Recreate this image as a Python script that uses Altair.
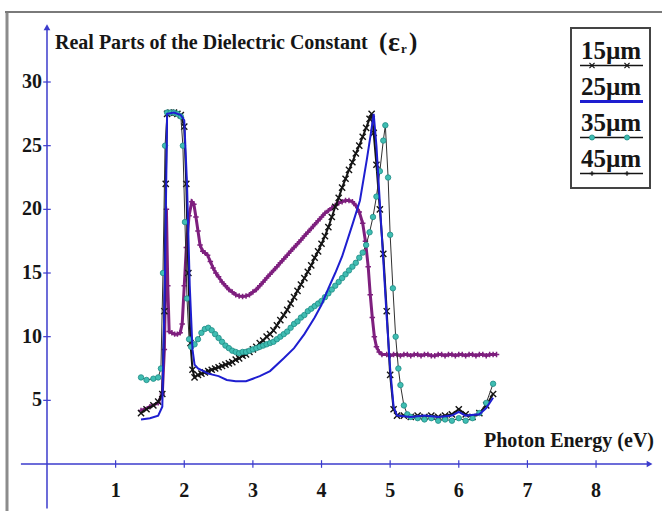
import altair as alt
import pandas as pd

# Real part of the dielectric constant vs photon energy, one pair of lists per film thickness
e15 = [1.37, 1.45, 1.55, 1.62, 1.68, 1.71, 1.73, 1.75, 1.80, 1.85, 1.90, 1.95, 2.00, 2.03, 2.06, 2.09, 2.12, 2.15,
       2.20, 2.25, 2.30, 2.35, 2.40, 2.45, 2.50, 2.55, 2.60, 2.65, 2.70, 2.75, 2.80, 2.85, 2.90, 2.95,
       3.00, 3.05, 3.10, 3.15, 3.20, 3.25, 3.30, 3.35, 3.40, 3.45, 3.50, 3.55, 3.60, 3.65, 3.70, 3.75, 3.80, 3.85, 3.90, 3.95,
       4.00, 4.05, 4.10, 4.15, 4.20, 4.25, 4.30, 4.35, 4.40, 4.45, 4.50, 4.55, 4.60, 4.65, 4.70, 4.73,
       4.76, 4.80, 4.85, 4.90, 4.95, 5.00, 5.05, 5.10, 5.20, 5.30, 5.40, 5.50, 5.60, 5.70, 5.80, 5.90, 6.00, 6.10,
       6.20, 6.30, 6.40, 6.50]
r15 = [4.0, 4.3, 4.6, 4.9, 5.5, 12.0, 22.0, 27.5, 27.6, 27.6, 27.5, 27.4, 26.5, 22.0, 15.0, 9.5, 7.4, 6.8,
       7.0, 7.1, 7.2, 7.3, 7.4, 7.5, 7.6, 7.7, 7.8, 7.9, 8.0, 8.2, 8.3, 8.5, 8.6, 8.8,
       9.0, 9.2, 9.5, 9.7, 10.0, 10.2, 10.5, 10.9, 11.3, 11.7, 12.1, 12.6, 13.1, 13.6, 14.1, 14.6, 15.1, 15.6, 16.2, 16.7,
       17.3, 17.9, 18.6, 19.4, 20.2, 20.9, 21.7, 22.4, 23.1, 23.7, 24.4, 25.0, 25.7, 26.4, 27.1, 27.5,
       26.0, 23.5, 20.0, 16.5, 12.0, 7.0, 4.3, 3.8, 3.8, 3.7, 3.8, 3.7, 3.8, 3.7, 3.8, 3.9, 4.3, 3.9,
       3.7, 4.0, 4.6, 5.5]

e25 = [1.37, 1.50, 1.62, 1.68, 1.72, 1.75, 1.85, 1.95, 2.00, 2.04, 2.08, 2.12, 2.15, 2.20, 2.35, 2.50, 2.62,
       2.75, 2.90, 3.00, 3.10, 3.25, 3.45, 3.60, 3.75, 3.90, 4.00, 4.10, 4.20, 4.30, 4.45, 4.56, 4.66, 4.72,
       4.76, 4.80, 4.85, 4.90, 4.95, 5.00, 5.05, 5.10, 5.30, 5.50, 5.70, 5.90, 6.00, 6.10, 6.30, 6.40, 6.50]
r25 = [3.5, 3.6, 3.8, 4.5, 15.0, 27.5, 27.6, 27.4, 27.0, 22.0, 14.0, 9.0, 7.8, 7.5, 7.1, 6.9, 6.6,
       6.5, 6.5, 6.7, 6.9, 7.3, 8.3, 9.1, 10.2, 11.5, 12.5, 13.8, 15.0, 16.3, 18.8, 20.7, 23.9, 26.0,
       27.5, 25.0, 20.5, 16.0, 11.5, 7.5, 4.5, 3.8, 3.7, 3.8, 3.7, 3.8, 4.1, 3.8, 3.9, 4.4, 5.2]

e35 = [1.37, 1.45, 1.55, 1.62, 1.66, 1.69, 1.72, 1.75, 1.80, 1.85, 1.90, 1.95, 1.98, 2.01, 2.04, 2.07, 2.10,
       2.15, 2.20, 2.25, 2.30, 2.35, 2.40, 2.45, 2.50, 2.55, 2.60, 2.65, 2.70, 2.75, 2.80, 2.85, 2.90, 2.95,
       3.00, 3.05, 3.10, 3.15, 3.20, 3.25, 3.30, 3.35, 3.40, 3.45, 3.50, 3.55, 3.60, 3.65, 3.70, 3.75,
       3.80, 3.85, 3.90, 3.95, 4.00, 4.05, 4.10, 4.15, 4.20, 4.25, 4.30, 4.35, 4.40, 4.45, 4.50, 4.55,
       4.60, 4.65, 4.70, 4.75, 4.80, 4.85, 4.90, 4.93, 4.97, 5.00, 5.04, 5.08, 5.12, 5.15, 5.20, 5.25,
       5.30, 5.40, 5.50, 5.60, 5.70, 5.80, 5.90, 6.00, 6.10, 6.20, 6.30, 6.40, 6.50]
r35 = [6.8, 6.6, 6.7, 6.8, 7.5, 15.0, 25.0, 27.6, 27.6, 27.6, 27.5, 27.3, 25.0, 19.0, 13.0, 9.8, 9.2,
       9.4, 9.8, 10.3, 10.6, 10.7, 10.5, 10.2, 9.9, 9.6, 9.3, 9.1, 8.9, 8.8, 8.7, 8.8, 8.8, 8.9,
       9.0, 9.1, 9.2, 9.3, 9.4, 9.5, 9.6, 9.8, 10.0, 10.2, 10.4, 10.7, 11.0, 11.2, 11.5, 11.7,
       12.0, 12.2, 12.4, 12.6, 12.8, 13.1, 13.4, 13.7, 14.0, 14.3, 14.6, 14.9, 15.2, 15.5, 15.8, 16.2,
       16.6, 17.2, 18.2, 19.4, 21.0, 23.0, 25.4, 26.6, 22.5, 18.0, 13.8, 10.0, 7.5, 6.2, 4.6, 3.9,
       3.7, 3.6, 3.5, 3.6, 3.4, 3.5, 3.4, 3.6, 3.4, 3.6, 4.0, 4.8, 6.3]

e45 = [1.37, 1.50, 1.62, 1.68, 1.71, 1.73, 1.74, 1.76, 1.78, 1.82, 1.86, 1.90, 1.94, 1.97, 2.00, 2.03,
       2.07, 2.11, 2.14, 2.17, 2.20, 2.23, 2.27, 2.30, 2.34, 2.38, 2.42, 2.46, 2.50, 2.55, 2.60, 2.65,
       2.70, 2.75, 2.80, 2.85, 2.90, 2.95, 3.00, 3.05, 3.10, 3.15, 3.20, 3.25, 3.30, 3.35, 3.40, 3.45,
       3.50, 3.55, 3.60, 3.65, 3.70, 3.75, 3.80, 3.85, 3.90, 3.95, 4.00, 4.05, 4.10, 4.15, 4.20, 4.25,
       4.30, 4.35, 4.40, 4.45, 4.50, 4.55, 4.60, 4.64, 4.68, 4.71, 4.74, 4.77, 4.80, 4.84, 4.88,
       4.95, 5.00, 5.05, 5.10, 5.15, 5.20, 5.25, 5.30, 5.35, 5.40, 5.45, 5.50, 5.55, 5.60, 5.65, 5.70,
       5.75, 5.80, 5.85, 5.90, 5.95, 6.00, 6.05, 6.10, 6.15, 6.20, 6.25, 6.30, 6.35, 6.40, 6.45, 6.50, 6.55]
r45 = [4.2, 4.5, 4.8, 5.5, 9.0, 15.0, 20.0, 14.0, 10.4, 10.3, 10.2, 10.2, 10.3, 11.0, 14.0, 17.0,
       19.5, 20.6, 20.4, 19.4, 18.3, 17.2, 16.7, 16.6, 16.4, 15.9, 15.4, 15.0, 14.7, 14.3, 14.0, 13.7,
       13.5, 13.3, 13.2, 13.15, 13.2, 13.3, 13.5, 13.7, 14.0, 14.3, 14.6, 14.9, 15.2, 15.5, 15.8, 16.1,
       16.4, 16.7, 17.0, 17.3, 17.6, 17.9, 18.2, 18.5, 18.8, 19.1, 19.4, 19.7, 19.9, 20.1, 20.3, 20.5,
       20.6, 20.7, 20.7, 20.6, 20.3, 19.8, 18.9, 17.5, 15.5, 13.3, 11.5, 10.0, 9.2, 8.8, 8.6,
       8.6, 8.5, 8.6, 8.6, 8.5, 8.6, 8.6, 8.5, 8.6, 8.6, 8.5, 8.6, 8.6, 8.5, 8.5, 8.6,
       8.6, 8.5, 8.6, 8.6, 8.5, 8.6, 8.6, 8.5, 8.6, 8.6, 8.5, 8.6, 8.6, 8.5, 8.6, 8.6, 8.6]

films = ["15µm", "25µm", "35µm", "45µm"]
x_ticks = [1, 2, 3, 4, 5, 6, 7, 8]
y_ticks = [5, 10, 15, 20, 25, 30]

FONT = "Liberation Serif"
INK = "#161616"
AXIS = "#3b3bcc"
BLACK = "#141414"
BLUE = "#1e1ed0"
TEAL = "#3fbdb2"
TEAL_EDGE = "#1f8c85"
PURPLE = "#7e1f7e"
X_SHAPE = "M-1,-1L1,1M-1,1L1,-1"
PLUS_SHAPE = "M-1,0L1,0M0,-1L0,1"

W, H = 662, 511
xs = alt.Scale(domain=[-0.6848, 8.961], nice=False, zero=False)
ys = alt.Scale(domain=[-3.691, 36.441], nice=False, zero=False)
one = alt.Data(values=[{}])


def frame(e, r):
    return pd.DataFrame({"energy": e, "eps": r})


def xy(chart):
    return chart.encode(
        x=alt.X("energy:Q", scale=xs, axis=None),
        y=alt.Y("eps:Q", scale=ys, axis=None),
    )


d15, d25, d35, d45 = frame(e15, r15), frame(e25, r25), frame(e35, r35), frame(e45, r45)

curves = [
    xy(alt.Chart(d45).mark_line(color=PURPLE, strokeWidth=3)),
    xy(alt.Chart(d45).mark_point(shape=PLUS_SHAPE, size=30, stroke=PURPLE, strokeWidth=1.5, filled=False, opacity=1)),
    xy(alt.Chart(d15).mark_line(color=BLACK, strokeWidth=2)),
    xy(alt.Chart(d15).mark_point(shape=X_SHAPE, size=38, stroke=BLACK, strokeWidth=1.4, filled=False, opacity=1)),
    xy(alt.Chart(d35).mark_line(color="#303030", strokeWidth=1)),
    xy(alt.Chart(d35).mark_point(shape="circle", size=30, fill=TEAL, stroke=TEAL_EDGE, strokeWidth=0.8,
                                 filled=True, opacity=1)),
    xy(alt.Chart(d25).mark_line(color=BLUE, strokeWidth=2)),
]

# axes crossing at the origin, with arrow heads
axes = [
    alt.Chart(one).mark_rule(color=AXIS, strokeWidth=1.5).encode(
        x=alt.XDatum(-0.38, scale=xs, axis=None), x2=alt.X2Datum(8.78), y=alt.YDatum(0, scale=ys, axis=None)),
    alt.Chart(one).mark_rule(color=AXIS, strokeWidth=1.5).encode(
        y=alt.YDatum(-3.5, scale=ys, axis=None), y2=alt.Y2Datum(34.3), x=alt.XDatum(0, scale=xs, axis=None)),
    alt.Chart(one).mark_point(shape="triangle-right", size=45, filled=True, color=AXIS, opacity=1).encode(
        x=alt.XDatum(8.78, scale=xs, axis=None), y=alt.YDatum(0, scale=ys, axis=None)),
    alt.Chart(one).mark_point(shape="triangle-up", size=45, filled=True, color=AXIS, opacity=1).encode(
        x=alt.XDatum(0, scale=xs, axis=None), y=alt.YDatum(34.3, scale=ys, axis=None)),
]

xt = pd.DataFrame({"v": x_ticks})
yt = pd.DataFrame({"v": y_ticks})
ticks = [
    alt.Chart(xt).mark_rule(color=AXIS, strokeWidth=1.2).encode(
        x=alt.X("v:Q", scale=xs, axis=None), y=alt.YDatum(-0.3, scale=ys, axis=None), y2=alt.Y2Datum(0.3)),
    alt.Chart(yt).mark_rule(color=AXIS, strokeWidth=1.2).encode(
        y=alt.Y("v:Q", scale=ys, axis=None), x=alt.XDatum(-0.055, scale=xs, axis=None), x2=alt.X2Datum(0.055)),
    alt.Chart(xt).mark_text(font=FONT, fontWeight="bold", fontSize=20, color=INK, dy=27, baseline="middle").encode(
        x=alt.X("v:Q", scale=xs, axis=None), y=alt.YDatum(0, scale=ys, axis=None), text="v:Q"),
    alt.Chart(yt).mark_text(font=FONT, fontWeight="bold", fontSize=20, color=INK, dx=-5, align="right",
                            baseline="middle").encode(
        y=alt.Y("v:Q", scale=ys, axis=None), x=alt.XDatum(0, scale=xs, axis=None), text="v:Q"),
]


def label(text, x, y, size=20, align="left"):
    return alt.Chart(one).mark_text(text=text, font=FONT, fontWeight="bold", fontSize=size, color=INK,
                                    align=align, baseline="middle").encode(x=alt.value(x), y=alt.value(y))


titles = [
    label("Real Parts of the Dielectric Constant", 55, 43),
    label("(", 379, 42, size=25),
    label("ε", 388, 43, size=28),
    label("r", 401, 49, size=13),
    label(")", 409, 42, size=25),
    label("Photon Energy (eV)", 654, 441, align="right"),
]

# outer frame of the figure
border = [
    alt.Chart(one).mark_rule(color="#8c8c8c", strokeWidth=3).encode(
        x=alt.value(7), y=alt.value(11), y2=alt.value(H)),
    alt.Chart(one).mark_rule(color="#7a7a7a", strokeWidth=2).encode(
        x=alt.value(5), x2=alt.value(W), y=alt.value(12)),
]

# legend: label above a sample of each curve's line
legend = [
    alt.Chart(one).mark_rect(fill="white", stroke="#444444", strokeWidth=2).encode(
        x=alt.value(571), x2=alt.value(650), y=alt.value(28), y2=alt.value(188)),
]
for i, name in enumerate(films):
    ty = 51 + 36 * i
    ly = 65.5 + 36 * i
    legend.append(label(name, 611, ty, size=25, align="center"))
    if name == "25µm":
        legend.append(alt.Chart(one).mark_rule(color=BLUE, strokeWidth=3).encode(
            x=alt.value(580), x2=alt.value(643), y=alt.value(ly)))
        continue
    legend.append(alt.Chart(one).mark_rule(color=BLACK, strokeWidth=1.4).encode(
        x=alt.value(580), x2=alt.value(643), y=alt.value(ly)))
    for mx in (592, 627):
        if name == "15µm":
            m = alt.Chart(one).mark_point(shape=X_SHAPE, size=26, stroke=BLACK, strokeWidth=1.2,
                                          filled=False, opacity=1)
        elif name == "35µm":
            m = alt.Chart(one).mark_point(shape="circle", size=26, fill=TEAL, stroke=TEAL_EDGE,
                                          strokeWidth=0.8, filled=True, opacity=1)
        else:
            m = alt.Chart(one).mark_point(shape=PLUS_SHAPE, size=22, stroke=BLACK, strokeWidth=1.3,
                                          filled=False, opacity=1)
        legend.append(m.encode(x=alt.value(mx), y=alt.value(ly)))

chart = alt.layer(*border, *axes, *ticks, *curves, *titles, *legend).properties(
    width=W, height=H, padding=0, autosize=alt.AutoSizeParams(type="none"), background="white"
).configure_view(stroke=None)

chart.save("out.html", embed_options={"renderer": "svg", "actions": False})
